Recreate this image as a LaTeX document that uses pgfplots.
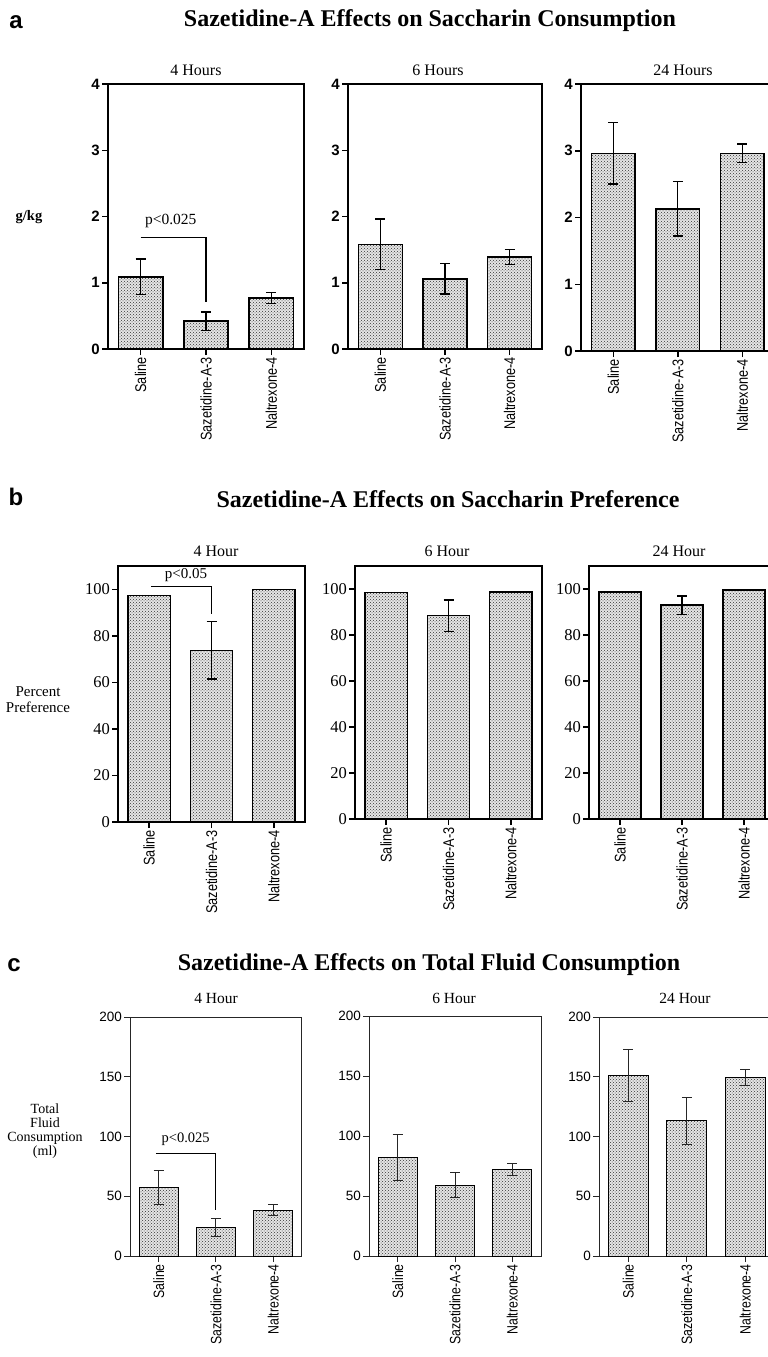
\documentclass[border=0pt]{standalone}
\usepackage{fontspec}
\setmainfont{Liberation Serif}
\newfontfamily\sansf{Liberation Sans}
\newfontfamily\narrowf[FakeStretch=0.82]{Liberation Sans}
\usepackage{pgfplots}
\pgfplotsset{compat=1.18}
\usetikzlibrary{patterns}
\newcommand{\fs}[1]{\fontsize{#1}{#1}\selectfont}

\pgfplotsset{
  panel/.style={
    scale only axis, ybar, bar width=0.68,
    xmin=-0.5, xmax=2.5, ymin=0,
    xtick={0,1,2}, xticklabels={Saline,Sazetidine-A-3,Naltrexone-4},
    xtick pos=left, ytick pos=left, tick align=outside,
    major tick length=6pt,
    axis line style={line width=1.5pt, black},
    every tick/.style={line width=1.5pt, black},
    xticklabel style={font=\narrowf\fs{15.5}, rotate=90, anchor=east, inner sep=2pt},
    yticklabel style={inner sep=2pt},
    /pgf/number format/assume math mode=true,
    clip=false,
  },
  rowa/.style={panel, ymax=4, ytick={0,1,2,3,4}, yticklabel style={font=\sansf\bfseries\fs{15}}},
  rowb/.style={panel, ymax=110, ytick={0,20,...,100}, yticklabel style={font=\fs{16.5}}},
  rowc/.style={panel, ymax=200, ytick={0,50,...,200}, yticklabel style={font=\sansf\fs{13.5}},
    axis line style={line width=1pt, black!85},
    every tick/.style={line width=1pt, black!85},
    xticklabel style={font=\narrowf\fs{15}}},
  barst/.style={draw=black, line width=1.5pt, preaction={fill=black!10}, pattern=crosshatch dots, pattern color=black!80,
    /pgfplots/error bars/y dir=both, /pgfplots/error bars/y explicit,
    /pgfplots/error bars/error bar style={line width=1.4pt, black},
    /pgfplots/error bars/error mark options={rotate=90, black, line width=1.4pt, mark size=5pt}},
  barstc/.style={barst, line width=1pt,
    /pgfplots/error bars/error bar style={line width=1pt, black!85},
    /pgfplots/error bars/error mark options={rotate=90, black!85, line width=1pt, mark size=5pt}},
}

\begin{document}
\begin{tikzpicture}
\path[use as bounding box] (0pt,0pt) rectangle (768pt,-1357pt);
\clip (0pt,0pt) rectangle (768pt,-1357pt);

% ---------------- Row a ----------------
\node[font=\sansf\bfseries\fs{24}] at (16pt,-22pt) {a};
\node[font=\bfseries\fs{24}] at (430pt,-21pt) {Sazetidine-A Effects on Saccharin Consumption};
\node[font=\bfseries\fs{14.5}] at (29pt,-217pt) {g/kg};
\node[font=\fs{16}] at (196pt,-70pt) {4 Hours};
\node[font=\fs{16}] at (438pt,-70pt) {6 Hours};
\node[font=\fs{16}] at (683pt,-70pt) {24 Hours};

\begin{axis}[rowa, at={(108pt,-349pt)}, anchor=south west, width=196pt, height=265pt]
\addplot[barst] coordinates {(0,1.09) +- (0,0.27) (1,0.42) +- (0,0.14) (2,0.77) +- (0,0.08)};
\draw[line width=1.5pt] (axis cs:0,1.68) -- (axis cs:1,1.68) -- (axis cs:1,0.71);
\node[font=\fs{15.5}] at (axis cs:0.46,1.93) {p<0.025};
\end{axis}

\begin{axis}[rowa, at={(348pt,-349pt)}, anchor=south west, width=194pt, height=265pt]
\addplot[barst] coordinates {(0,1.58) +- (0,0.38) (1,1.06) +- (0,0.23) (2,1.39) +- (0,0.11)};
\end{axis}

\begin{axis}[rowa, at={(581pt,-351pt)}, anchor=south west, width=193.5pt, height=267pt]
\addplot[barst] coordinates {(0,2.96) +- (0,0.46) (1,2.13) +- (0,0.41) (2,2.96) +- (0,0.14)};
\end{axis}

% ---------------- Row b ----------------
\node[font=\sansf\bfseries\fs{24}] at (16pt,-497pt) {b};
\node[font=\bfseries\fs{24}] at (448pt,-499pt) {Sazetidine-A Effects on Saccharin Preference};
\node[font=\fs{15}, align=center] at (38pt,-700pt) {Percent\\[1pt]Preference};
\node[font=\fs{16}] at (216pt,-551pt) {4 Hour};
\node[font=\fs{16}] at (447pt,-551pt) {6 Hour};
\node[font=\fs{16}] at (679pt,-551pt) {24 Hour};

\begin{axis}[rowb, at={(118pt,-822pt)}, anchor=south west, width=187pt, height=256pt]
\addplot[barst] coordinates {(0,97.4) +- (0,0) (1,73.8) +- (0,12.3) (2,100) +- (0,0)};
\draw[line width=1.5pt] (axis cs:0.03,101.3) -- (axis cs:1,101.3) -- (axis cs:1,89.3);
\node[font=\fs{15}] at (axis cs:0.59,106) {p<0.05};
\end{axis}

\begin{axis}[rowb, at={(355pt,-819pt)}, anchor=south west, width=187pt, height=253pt]
\addplot[barst] coordinates {(0,98.5) +- (0,0) (1,88.4) +- (0,6.9) (2,98.8) +- (0,0)};
\end{axis}

\begin{axis}[rowb, at={(589pt,-819pt)}, anchor=south west, width=186pt, height=253pt]
\addplot[barst] coordinates {(0,98.8) +- (0,0) (1,93) +- (0,4) (2,99.6) +- (0,0)};
\end{axis}

% ---------------- Row c ----------------
\node[font=\sansf\bfseries\fs{24}] at (14pt,-965pt) {c};
\node[font=\bfseries\fs{24}] at (429pt,-965pt) {Sazetidine-A Effects on Total Fluid Consumption};
\node[font=\fs{14}, align=center] at (45pt,-1131pt) {Total\\Fluid\\Consumption\\(ml)};
\node[font=\fs{15.5}] at (216pt,-998pt) {4 Hour};
\node[font=\fs{15.5}] at (454pt,-998pt) {6 Hour};
\node[font=\fs{15.5}] at (685pt,-998pt) {24 Hour};

\begin{axis}[rowc, at={(130pt,-1256pt)}, anchor=south west, width=172pt, height=239pt]
\addplot[barstc] coordinates {(0,57.5) +- (0,14) (1,23.7) +- (0,7.5) (2,38.5) +- (0,4.2)};
\draw[line width=1pt] (axis cs:-0.05,86.2) -- (axis cs:1,86.2) -- (axis cs:1,38.5);
\node[font=\fs{14.5}] at (axis cs:0.47,98) {p<0.025};
\end{axis}

\begin{axis}[rowc, at={(369pt,-1256pt)}, anchor=south west, width=172pt, height=240pt]
\addplot[barstc] coordinates {(0,82) +- (0,19) (1,58.9) +- (0,10.4) (2,72) +- (0,5.2)};
\end{axis}

\begin{axis}[rowc, at={(599pt,-1256pt)}, anchor=south west, width=175.5pt, height=239pt]
\addplot[barstc] coordinates {(0,150.9) +- (0,22) (1,113.2) +- (0,19.5) (2,149.5) +- (0,6.5)};
\end{axis}
\end{tikzpicture}
\end{document}
